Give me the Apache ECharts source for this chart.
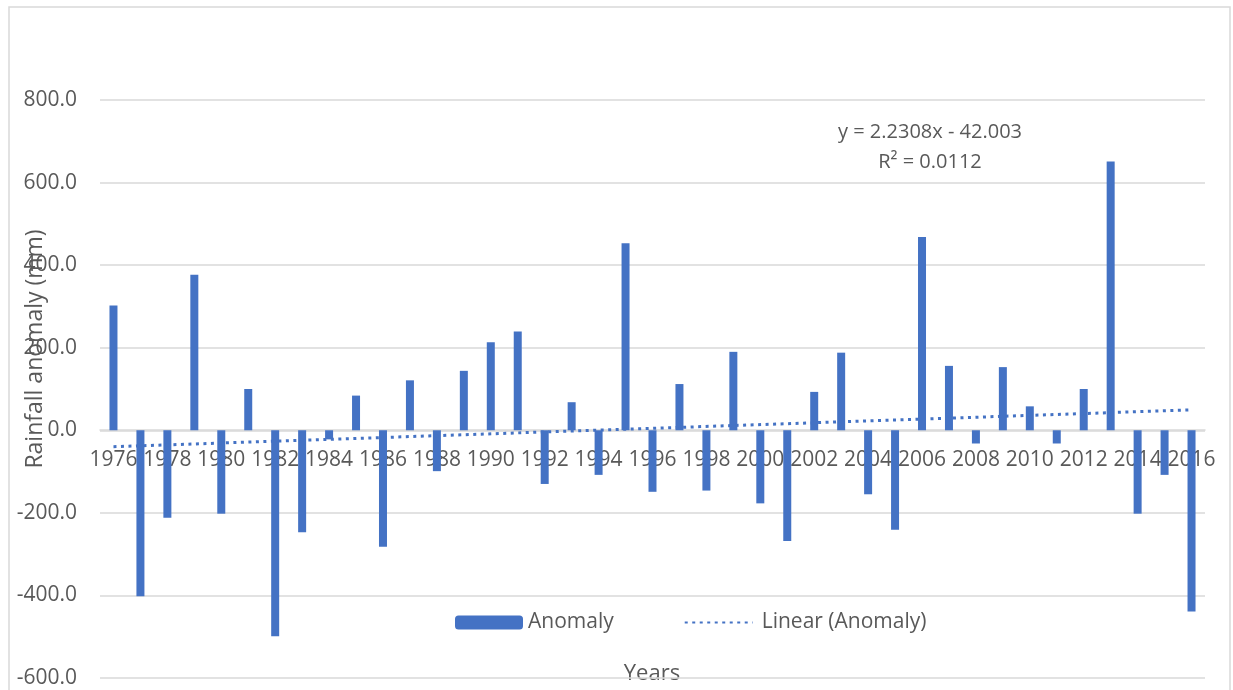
<!DOCTYPE html>
<html>
<head>
<meta charset="utf-8">
<script src="https://cdn.jsdelivr.net/npm/echarts@6/dist/echarts.min.js"></script>
<style>
html,body{margin:0;padding:0;background:#fff;}
#chart{width:1233px;height:690px;}
</style>
</head>
<body>
<div id="chart"></div>
<script>
const years = ['1976','1977','1978','1979','1980','1981','1982','1983','1984','1985',
  '1986','1987','1988','1989','1990','1991','1992','1993','1994','1995',
  '1996','1997','1998','1999','2000','2001','2002','2003','2004','2005',
  '2006','2007','2008','2009','2010','2011','2012','2013','2014','2015','2016'];
const anomaly = [302,-402,-212,377,-202,100,-499,-247,-22,84,
  -282,121,-99,144,213,239,-130,68,-108,453,
  -149,112,-146,190,-177,-268,93,188,-155,-241,
  468,156,-32,153,58,-32,100,651,-202,-108,-439];
// Linear trendline endpoints (y = 2.2308x - 42.003, x = 1..41)
const trendYears = ['1976','2016'];
const trendValues = [-39.8, 49.5];
const trendEquation = 'y = 2.2308x - 42.003';
const trendR2 = 'R\u00B2 = 0.0112';
const yMin = -600, yMax = 800, yStep = 200;

const FONT = '"Open Sans", "Noto Sans", sans-serif';
const GREY = '#595959';
const BLUE = '#4472C4';

const chart = echarts.init(document.getElementById('chart'));
chart.setOption({
  animation: false,
  backgroundColor: '#ffffff',
  textStyle: { fontFamily: FONT, color: GREY },
  grid: { left: 100, right: 28, top: 100, bottom: 12, containLabel: false, outerBoundsMode: 'none' },
  legend: {
    left: 450, top: 607,
    itemWidth: 68, itemHeight: 14, itemGap: 70,
    textStyle: { fontSize: 21, color: GREY, fontFamily: FONT },
    data: [
      { name: 'Anomaly' },
      { name: 'Linear (Anomaly)', itemStyle: { color: 'rgba(0,0,0,0)', borderWidth: 0 },
        textStyle: { padding: [0, 0, 0, 4] } }
    ]
  },
  xAxis: {
    type: 'category',
    data: years,
    boundaryGap: true,
    position: 'bottom',
    offset: -248,
    axisLine: { show: true, onZero: false, lineStyle: { color: '#d9d9d9', width: 1.5 } },
    axisTick: { show: false },
    axisLabel: { interval: 1, fontSize: 21, color: GREY, fontFamily: FONT, margin: 20, hideOverlap: false },
    splitLine: { show: false }
  },
  yAxis: {
    type: 'value',
    min: yMin, max: yMax, interval: yStep,
    axisLine: { show: false, onZero: false },
    axisTick: { show: false },
    axisLabel: { fontSize: 21, color: GREY, fontFamily: FONT, margin: 23,
      formatter: v => v.toFixed(1) },
    splitLine: { show: true, lineStyle: { color: '#d9d9d9', width: 1.5 } }
  },
  series: [
    {
      name: 'Anomaly',
      type: 'bar',
      data: anomaly,
      barWidth: 8,
      itemStyle: { color: BLUE },
      z: 3
    },
    {
      name: 'Linear (Anomaly)',
      type: 'line',
      data: trendYears.map((y, i) => [y, trendValues[i]]),
      symbol: 'none',
      lineStyle: { color: BLUE, width: 3, type: [3, 4.5] },
      itemStyle: { color: BLUE },
      z: 5
    }
  ],
  graphic: [
    { type: 'rect', silent: true, z: -1,
      shape: { x: 9, y: 7, width: 1221, height: 700 },
      style: { fill: 'none', stroke: '#d9d9d9', lineWidth: 1.5 } },
    { type: 'text', x: 930, y: 132,
      style: { text: trendEquation, font: '20px ' + FONT, fill: GREY, align: 'center', verticalAlign: 'middle' } },
    { type: 'text', x: 930, y: 162,
      style: { text: trendR2, font: '20px ' + FONT, fill: GREY, align: 'center', verticalAlign: 'middle' } },
    { type: 'text', x: 35, y: 349, rotation: Math.PI / 2,
      style: { text: 'Rainfall anomaly (mm)', font: '23px ' + FONT, fill: GREY, align: 'center', verticalAlign: 'middle' } },
    { type: 'text', x: 652, y: 674,
      style: { text: 'Years', font: '22px ' + FONT, fill: GREY, align: 'center', verticalAlign: 'middle' } }
  ]
});
</script>
</body>
</html>
